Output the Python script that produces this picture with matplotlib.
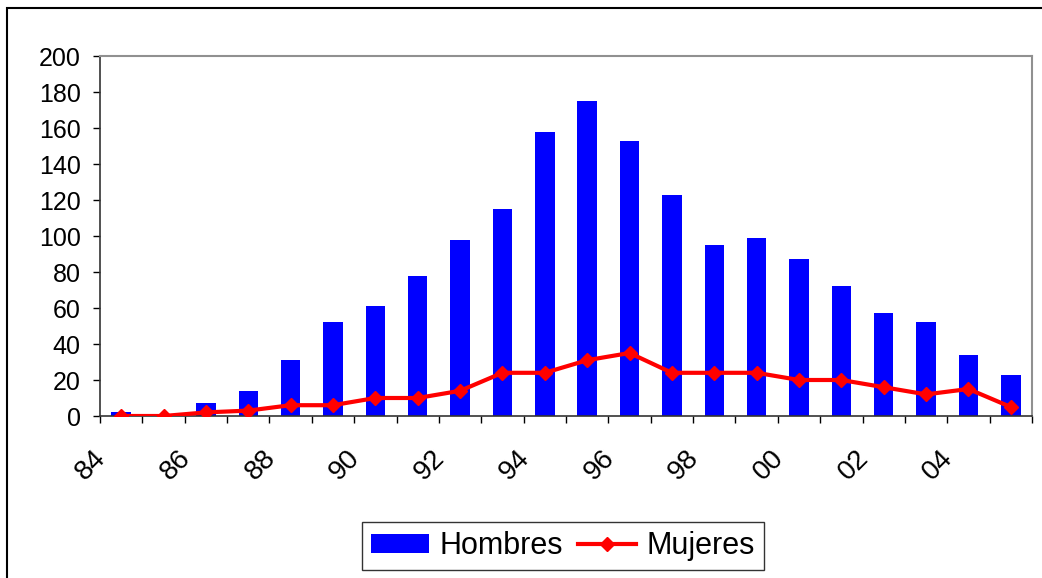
import matplotlib
matplotlib.use('Agg')
import matplotlib.pyplot as plt
import matplotlib.transforms as mtransforms
from matplotlib.patches import Rectangle
import numpy as np

plt.rcParams['font.family'] = ['Liberation Sans', 'DejaVu Sans']

# data
years = ['84', '85', '86', '87', '88', '89', '90', '91', '92', '93', '94',
         '95', '96', '97', '98', '99', '00', '01', '02', '03', '04', '05']
hombres = [2, 1, 7, 14, 31, 52, 61, 78, 98, 115, 158,
           175, 153, 123, 95, 99, 87, 72, 57, 52, 34, 23]
mujeres = [0, 0, 2, 3, 6, 6, 10, 10, 14, 24, 24,
           31, 35, 24, 24, 24, 20, 20, 16, 12, 15, 5]
yticks = list(range(0, 201, 20))

W, H = 1042, 578
fig = plt.figure(figsize=(W / 100, H / 100), dpi=100)
ax = fig.add_axes([100 / W, (H - 416) / H, 932 / W, 360 / H])

x = np.arange(len(years))
bars = ax.bar(x, hombres, width=0.46, color='#0000ff', label='Hombres', zorder=2)
line, = ax.plot(x, mujeres, color='#ff0000', lw=3, marker='D', ms=7,
                label='Mujeres', zorder=3)

ax.set_xlim(-0.5, len(years) - 0.5)
ax.set_ylim(0, 200)
ax.set_yticks(yticks)
ax.tick_params(axis='y', direction='out', length=5, width=1, pad=9,
               labelsize=18)

# tick marks between categories, labels every second year
ax.set_xticks(np.arange(len(years) + 1) - 0.5)
ax.set_xticklabels([])
ax.tick_params(axis='x', direction='out', length=5, width=1)
off = mtransforms.ScaledTranslation(2 / 100, -38 / 100, fig.dpi_scale_trans)
trans = ax.get_xaxis_transform() + off
for i in x[::2]:
    ax.text(i - 0.5, 0, years[i], transform=trans, rotation=45, ha='right',
            va='center', rotation_mode='anchor', fontsize=20, clip_on=False)

for s in ['left', 'bottom']:
    ax.spines[s].set_color('#333333')
    ax.spines[s].set_linewidth(1.2)
for s in ['top', 'right']:
    ax.spines[s].set_color('#909090')
    ax.spines[s].set_linewidth(1.5)

leg = ax.legend([bars, line], ['Hombres', 'Mujeres'], loc='center',
                bbox_to_anchor=(563 / W, 32 / H),
                bbox_transform=fig.transFigure, ncol=2, fontsize=22,
                frameon=True, fancybox=False, edgecolor='black',
                handlelength=1.9, handleheight=0.6, handletextpad=0.35,
                columnspacing=0.5, borderpad=0.3)
leg.get_frame().set_linewidth(1)

# outer chart border
fig.add_artist(Rectangle((7 / W, -0.5), 2, 1.5 - 8 / H, transform=fig.transFigure,
                         fill=False, lw=1.5, edgecolor='black'))

fig.savefig('out.png', dpi=100)
